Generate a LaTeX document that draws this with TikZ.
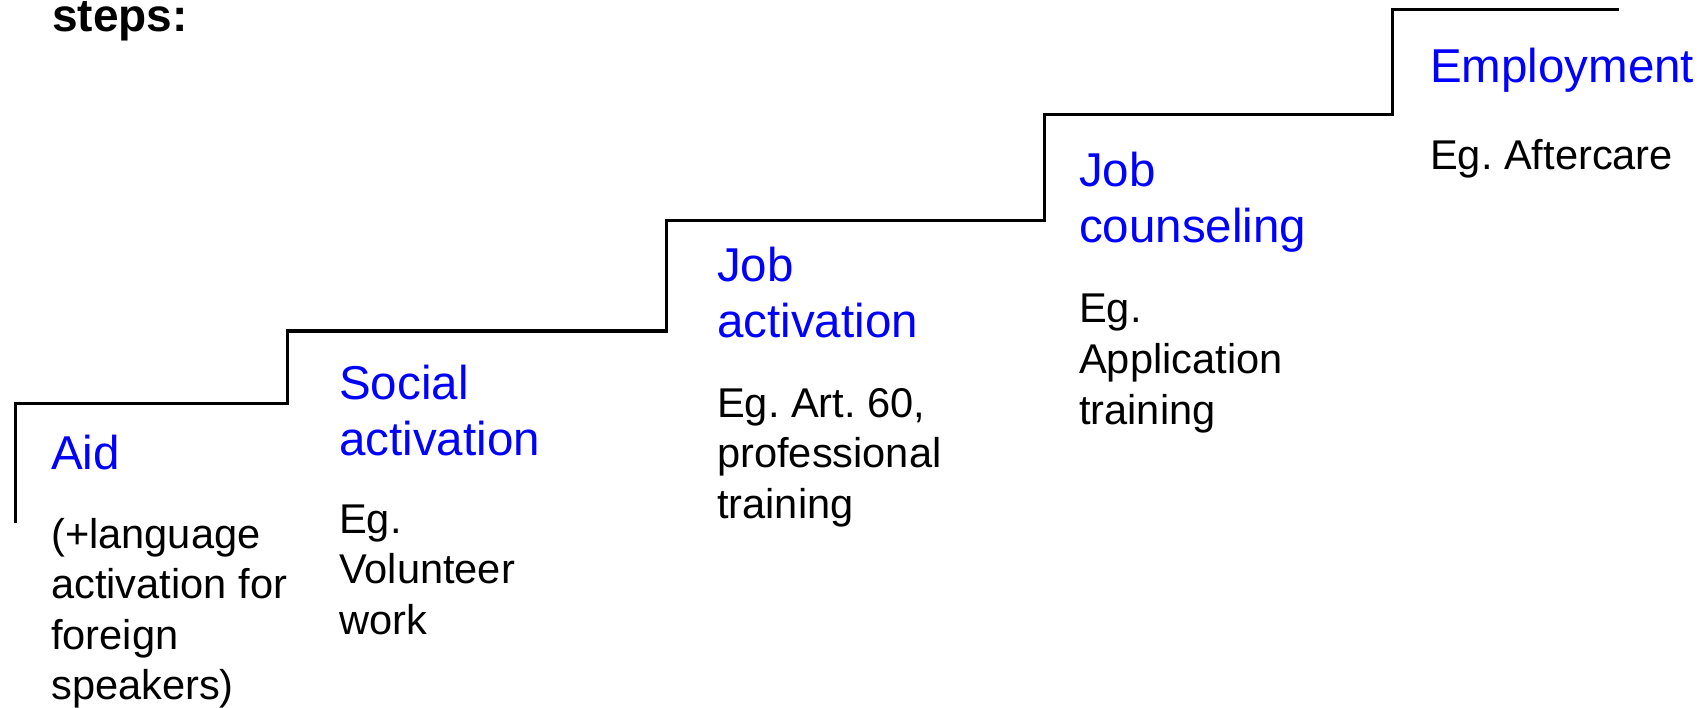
\documentclass[tikz,border=0pt]{standalone}
\usepackage{fontspec}
\setmainfont{Liberation Sans}
\frenchspacing
\newcommand{\linesof}[1]{\begin{tabular}[t]{@{}l@{}}#1\end{tabular}}
\begin{document}
\begin{tikzpicture}[x=1pt,y=-1pt,
  heading/.style={anchor=base west, inner sep=0pt, text=black, font=\fontsize{46}{54}\selectfont\bfseries},
  title/.style={anchor=base west, inner sep=0pt, text=blue, font=\fontsize{47.5}{56}\selectfont},
  desc/.style={anchor=base west, inner sep=0pt, text=black, font=\fontsize{41.6}{50.5}\selectfont},
  stair/.style={line width=3pt, black, line join=miter}]
\useasboundingbox (0,0) rectangle (1704,708);

\node[heading] (steps) at (52,32) {steps:};

\draw[stair] (15,523) -- (15,403) -- (287,403) -- (287,331) -- (666,331) -- (666,221)
  -- (1044,221) -- (1044,115) -- (1392,115) -- (1392,9.5) -- (1619,9.5);

\node[title] (t1) at (51,469) {Aid};
\node[desc]  (d1) at (51,548) {\linesof{(+language\\activation for\\foreign\\speakers)}};

\node[title] (t2) at (339,399) {\linesof{Social\\activation}};
\node[desc]  (d2) at (339,533) {\linesof{Eg.\\Volunteer\\work}};

\node[title] (t3) at (717,282) {\linesof{Job\\activation}};
\node[desc]  (d3) at (717,417) {\linesof{Eg. Art. 60,\\professional\\training}};

\node[title] (t4) at (1079,187) {\linesof{Job\\counseling}};
\node[desc]  (d4) at (1079,323) {\linesof{Eg.\\Application\\training}};

\node[title] (t5) at (1430,83) {Employment};
\node[desc]  (d5) at (1430,170) {Eg. Aftercare};
\end{tikzpicture}
\end{document}
